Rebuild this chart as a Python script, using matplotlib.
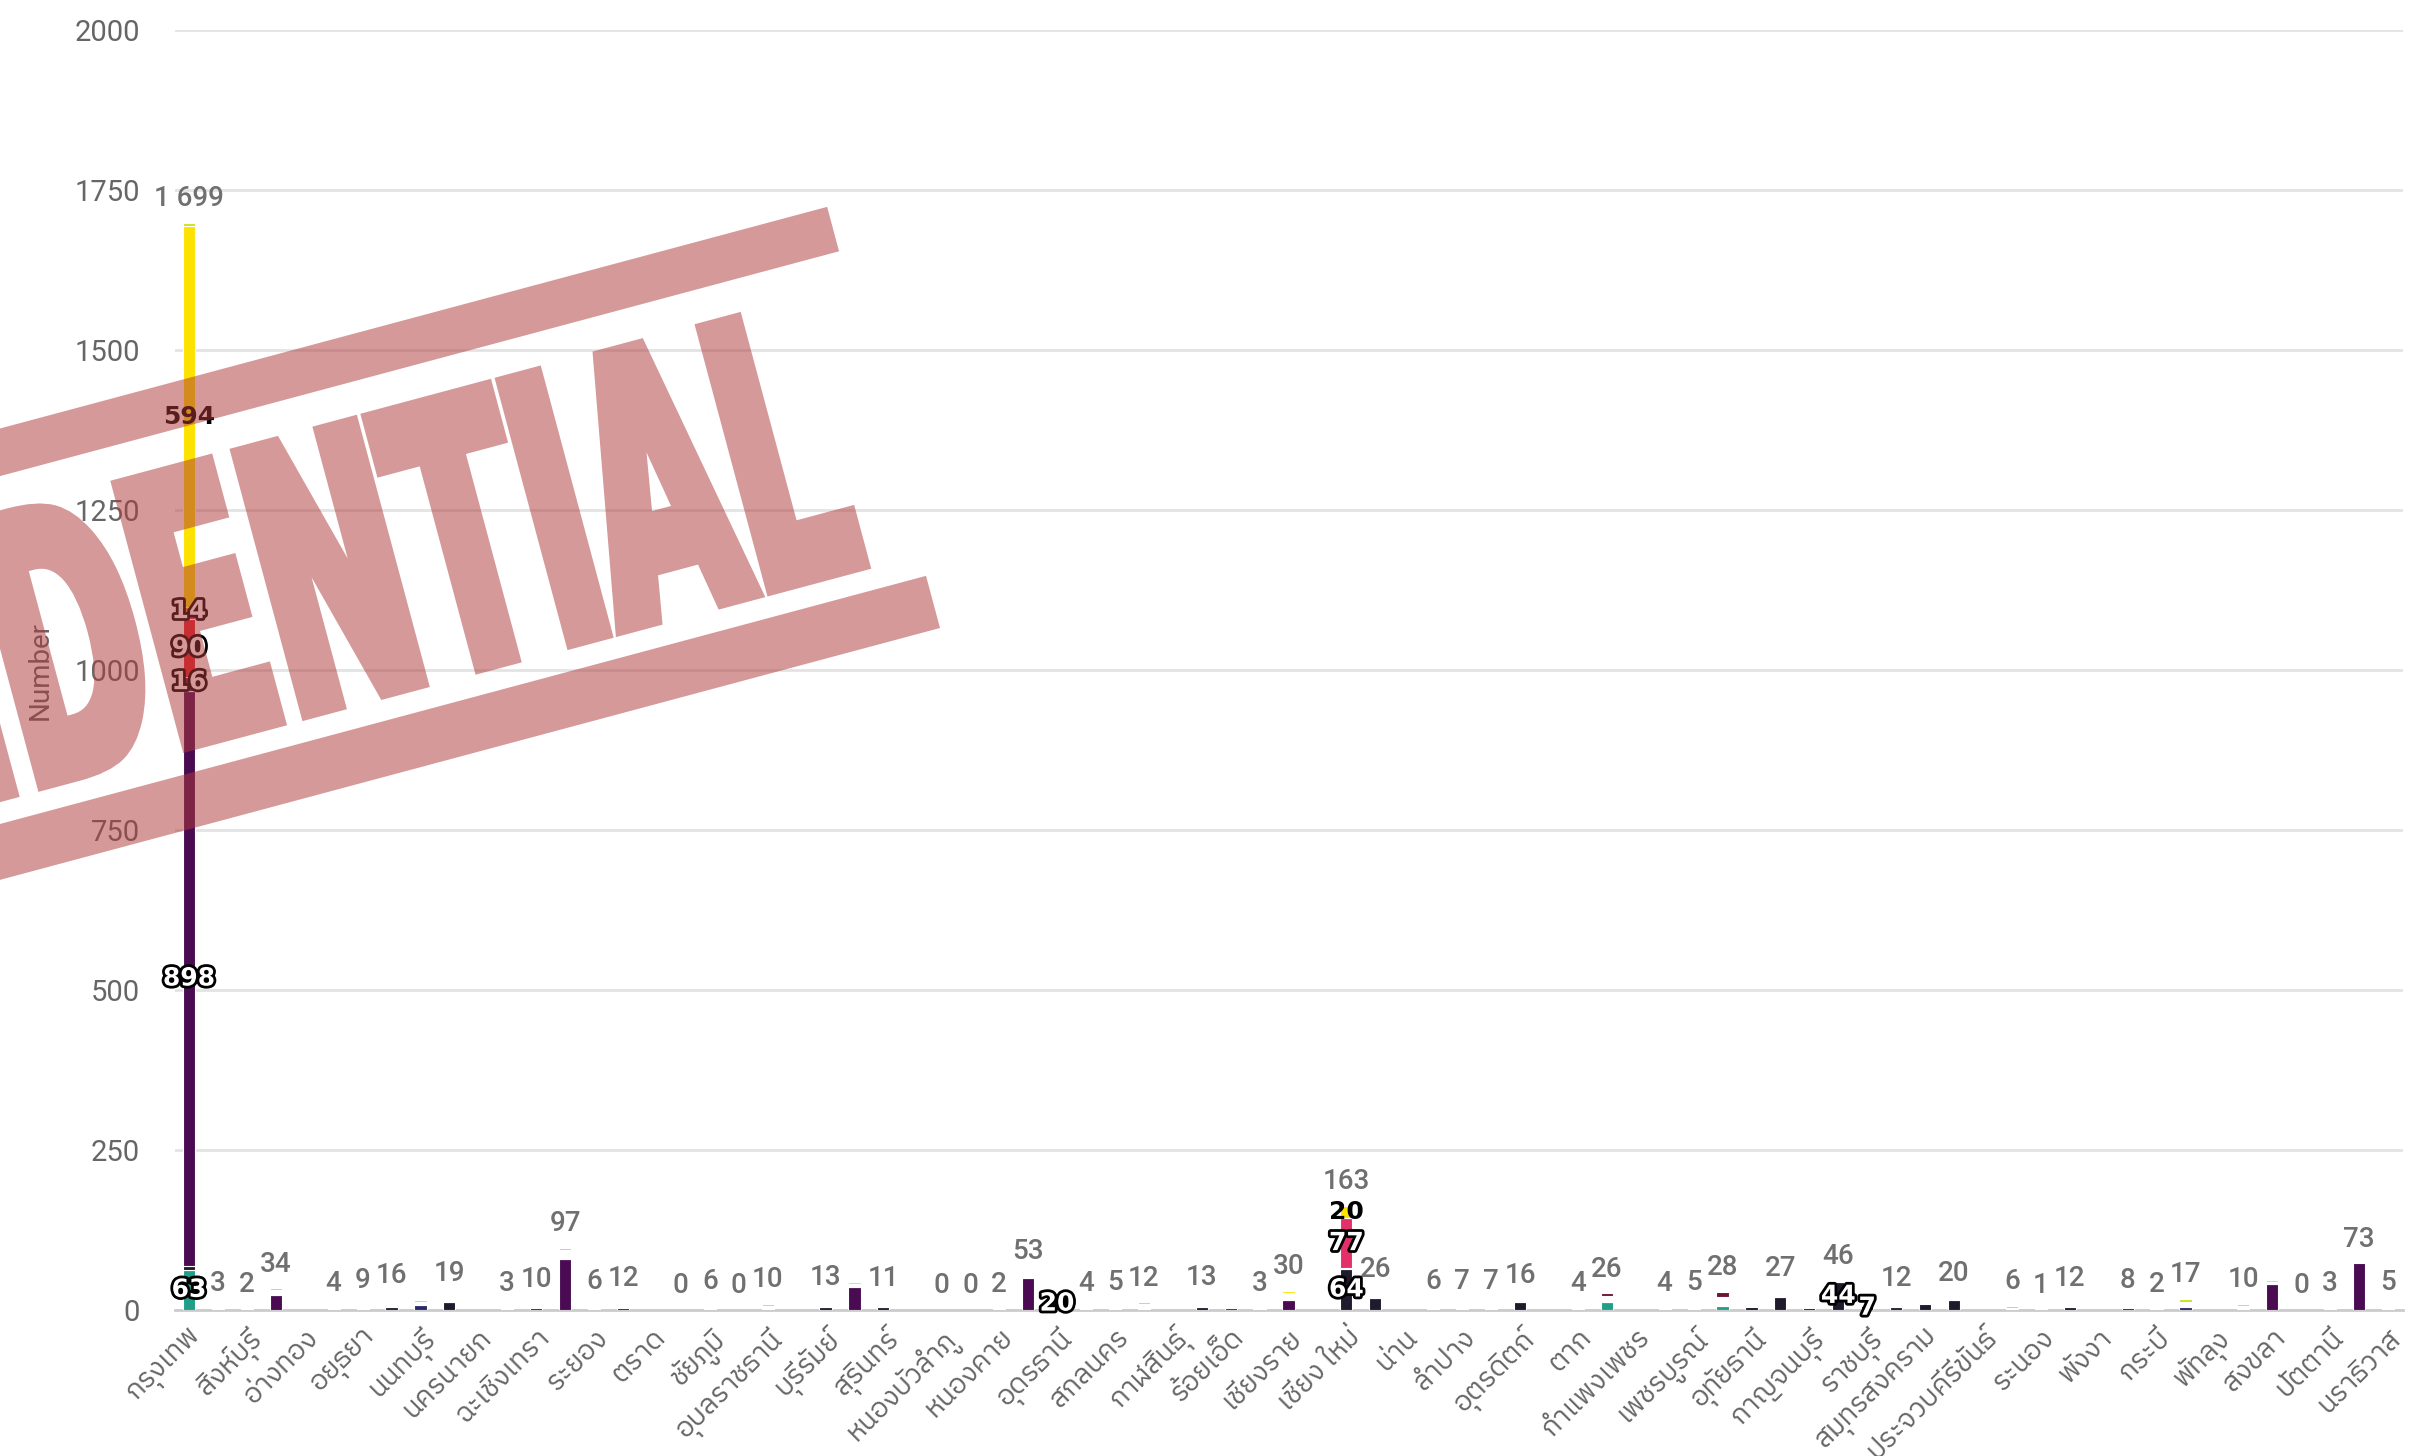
import numpy as np
import matplotlib
matplotlib.use("Agg")
import matplotlib.pyplot as plt
from matplotlib import font_manager
from matplotlib.ft2font import FT2Font
from matplotlib.textpath import TextPath
from matplotlib.font_manager import FontProperties
from matplotlib.patches import PathPatch, Polygon
from matplotlib.transforms import Affine2D, IdentityTransform
from matplotlib.figure import Figure
from matplotlib.backends.backend_agg import FigureCanvasAgg
import matplotlib.patheffects as pe

# ---------------------------------------------------------------- data
N_CAT = 77  # provinces on the x axis; every second one carries a tick label

tick_labels = [
    "กรุงเทพ", "สิงห์บุรี", "อ่างทอง", "อยุธยา", "นนทบุรี", "นครนายก",
    "ฉะเชิงเทรา", "ระยอง", "ตราด", "ชัยภูมิ", "อุบลราชธานี", "บุรีรัมย์",
    "สุรินทร์", "หนองบัวลำภู", "หนองคาย", "อุดรธานี", "สกลนคร", "กาฬสินธุ์",
    "ร้อยเอ็ด", "เชียงราย", "เชียง ใหม่", "น่าน", "ลำปาง", "อุตรดิตถ์", "ตาก",
    "กำแพงเพชร", "เพชรบูรณ์", "อุทัยธานี", "กาญจนบุรี", "ราชบุรี",
    "สมุทรสงคราม", "ประจวบคีรีขันธ์", "ระนอง", "พังงา", "กระบี่", "พัทลุง",
    "สงขลา", "ปัตตานี", "นราธิวาส",
]

# stacked series, keyed by category index (bottom of the stack first)
teal_vals = {0: 63, 49: 12, 53: 7}
black_vals = {0: 6, 7: 5, 9: 12, 12: 3, 15: 3, 22: 5, 24: 4, 30: 20, 35: 5,
              40: 64, 41: 18, 46: 12, 54: 4, 55: 20, 56: 3, 57: 44, 58: 7,
              59: 4, 60: 10, 61: 16, 65: 4, 67: 3}
purple_vals = {0: 898, 3: 24, 13: 80, 23: 36, 29: 50, 38: 16, 72: 40, 75: 73}
navy_vals = {0: 6, 8: 8, 69: 5}
blank_vals = {1: 3, 2: 2, 3: 7, 5: 4, 6: 9, 7: 11, 8: 4, 9: 7, 11: 3, 12: 7,
              13: 13, 14: 6, 15: 9, 18: 6, 20: 7, 22: 8, 23: 5, 24: 7, 28: 2,
              29: 3, 31: 4, 32: 5, 33: 9, 35: 8, 37: 3, 38: 11, 40: 2, 41: 8,
              43: 6, 44: 7, 45: 7, 46: 4, 48: 4, 49: 10, 51: 4, 52: 5, 53: 13,
              55: 7, 57: 2, 59: 8, 61: 4, 63: 3, 64: 1, 65: 8, 67: 5, 68: 2,
              69: 8, 71: 7, 72: 3, 74: 3, 76: 5}
maroon_vals = {0: 16, 36: 3, 49: 4, 53: 8}
red_vals = {0: 90}
pink_vals = {0: 6, 40: 77}
orange_vals = {0: 14}
gold_vals = {0: 594, 23: 3, 38: 3, 40: 20, 72: 4}
lime_vals = {0: 6, 3: 3, 8: 4, 13: 4, 20: 3, 33: 3, 63: 3, 69: 4, 71: 3}

# categories without any record
no_data = [4, 10, 16, 21, 25, 34, 39, 42, 47, 50, 62, 66, 70]
# stacks whose total label is suppressed (overlapping neighbours)
stack_label_hidden = [8, 23, 30, 36, 54, 56, 58, 60, 72]
# stacks that show per-segment value labels
segment_label_bars = [0, 30, 40, 57, 58]
SEGMENT_LABEL_MIN = 7

series = [
    (teal_vals, "#1f9e89", False),
    (black_vals, "#1f1a2c", False),
    (purple_vals, "#4a0b52", False),
    (navy_vals, "#27296b", False),
    (blank_vals, "#ffffff", True),
    (maroon_vals, "#6e1537", False),
    (red_vals, "#e4202b", False),
    (pink_vals, "#e3306b", False),
    (orange_vals, "#ee8419", False),
    (gold_vals, "#fde200", True),
    (lime_vals, "#cde11d", True),
]


def dense(vals):
    arr = np.zeros(N_CAT)
    for k, v in vals.items():
        arr[k] = v
    return arr


# ---------------------------------------------------------------- fonts
def find_thai_family():
    found = []
    for fe in font_manager.fontManager.ttflist:
        try:
            ft = FT2Font(fe.fname)
            if ft.get_char_index(0x0E01) and ft.get_char_index(0x0E34):
                found.append(fe.name)
        except Exception:
            continue
    if not found:
        return "DejaVu Sans"

    def rank(name):
        n = name.lower()
        score = 0
        if "sans" in n:
            score -= 2
        if "thai" in n:
            score -= 1
        if "mono" in n or ("serif" in n and "sans" not in n):
            score += 3
        return score
    found.sort(key=rank)
    return found[0]


THAI = find_thai_family()
NUM_FONT = ["Roboto", "DejaVu Sans"]
GREY = "#666666"

# ---------------------------------------------------------------- figure
W_PX, H_PX = 2431, 1456
fig = plt.figure(figsize=(W_PX / 100, H_PX / 100), dpi=100)
fig.patch.set_facecolor("white")
ax = fig.add_axes([174.5 / W_PX, 1 - 1310 / H_PX, 2228 / W_PX, 1280 / H_PX])

x = np.arange(N_CAT)
bottom = np.zeros(N_CAT)
for vals, color, light in series:
    arr = dense(vals)
    mask = arr > 0
    ax.bar(x[mask], arr[mask], width=0.42, bottom=bottom[mask], color=color,
           edgecolor="white", linewidth=0.8, zorder=3)
    for k in segment_label_bars:
        v = arr[k]
        if v >= SEGMENT_LABEL_MIN:
            if light:
                ax.text(k, bottom[k] + v / 2, f"{int(v)}", ha="center",
                        va="center", fontsize=18, fontweight="bold",
                        color="black", family="DejaVu Sans", zorder=6)
            else:
                ax.text(k, bottom[k] + v / 2, f"{int(v)}", ha="center",
                        va="center", fontsize=18, fontweight="bold",
                        color="white", family="DejaVu Sans", zorder=6,
                        path_effects=[pe.withStroke(linewidth=4,
                                                    foreground="black")])
    bottom += arr

totals = bottom
for k in range(N_CAT):
    if k in no_data or k in stack_label_hidden:
        continue
    txt = f"{int(totals[k]):,}".replace(",", " ")
    ax.annotate(txt, (k, totals[k]), xytext=(0, 12), textcoords="offset points",
                ha="center", va="baseline", fontsize=20, fontweight="medium",
                color="#707070", family=NUM_FONT, zorder=5)

# axes styling
ax.set_xlim(-0.5, N_CAT - 0.5)
ax.set_ylim(0, 2000)
ax.set_yticks(np.arange(0, 2001, 250))
ax.yaxis.grid(True, color="#e3e3e3", linewidth=2)
ax.set_axisbelow(True)
for side in ("top", "right", "left"):
    ax.spines[side].set_visible(False)
ax.spines["bottom"].set_color("#cccccc")
ax.spines["bottom"].set_linewidth(2)
ax.tick_params(axis="y", length=0, pad=25, labelsize=21, labelcolor=GREY)
for t in ax.get_yticklabels():
    t.set_family(NUM_FONT)

ax.set_xticks(x[::2])
ax.set_xticklabels(tick_labels, rotation=45, ha="right",
                   rotation_mode="anchor", fontsize=20, color=GREY,
                   family=[THAI, "DejaVu Sans"])
ax.tick_params(axis="x", length=0, pad=10)

ax.set_ylabel("Number", fontsize=20, color=GREY, family=NUM_FONT)
ax.yaxis.set_label_coords(-0.054, 0.5)

# ---------------------------------------------------------------- stamp overlay
# The stamp shape is rasterised once as an opaque mask, then laid over the
# chart as a single translucent layer so overlapping strokes blend evenly.
theta = np.deg2rad(15)
d = np.array([np.cos(theta), np.sin(theta)])
nrm = np.array([-np.sin(theta), np.cos(theta)])
P0 = np.array([940.0, H_PX - 628.0])   # lower-right corner (display px)
H_STAMP = 436.0
STAMP_RGB = np.array([174, 58, 58]) / 255.0
STAMP_ALPHA = 0.52


def uv(u, v):
    return P0 + u * d + v * nrm


mfig = Figure(figsize=(W_PX / 100, H_PX / 100), dpi=100)
mcanvas = FigureCanvasAgg(mfig)
mfig.patch.set_facecolor("white")


def band(v0, v1, u0=-2200.0, u1=0.0):
    pts = [uv(u0, v0), uv(u1, v0), uv(u1, v1), uv(u0, v1)]
    return Polygon(pts, closed=True, transform=IdentityTransform(),
                   facecolor="black", edgecolor="none")


mfig.add_artist(band(0, 54))
mfig.add_artist(band(H_STAMP - 46, H_STAMP))

fp = FontProperties(family="DejaVu Sans", weight="bold")
word = TextPath((0, 0), "CONFIDENTIAL", size=100, prop=fp)
tail = TextPath((0, 0), "NTIAL", size=100, prop=fp)
ext_w = word.get_extents()
ext_t = tail.get_extents()
sx = 575.0 / ext_t.width
sy = 268.0 / ext_t.height
tr = (Affine2D().translate(-ext_w.x1, 0).scale(sx, sy).translate(-58, 82)
      .rotate(theta).translate(*P0))
mfig.add_artist(PathPatch(tr.transform_path(word),
                          transform=IdentityTransform(), facecolor="black",
                          edgecolor="black", linewidth=10, joinstyle="miter"))
mcanvas.draw()
buf = np.asarray(mcanvas.buffer_rgba()).astype(float)
coverage = 1.0 - buf[..., 0] / 255.0

overlay = np.zeros((H_PX, W_PX, 4))
overlay[..., :3] = STAMP_RGB
overlay[..., 3] = coverage * STAMP_ALPHA
fig.figimage(overlay, 0, 0, origin="upper", zorder=20)

fig.savefig("out.png", dpi=100, facecolor="white")
